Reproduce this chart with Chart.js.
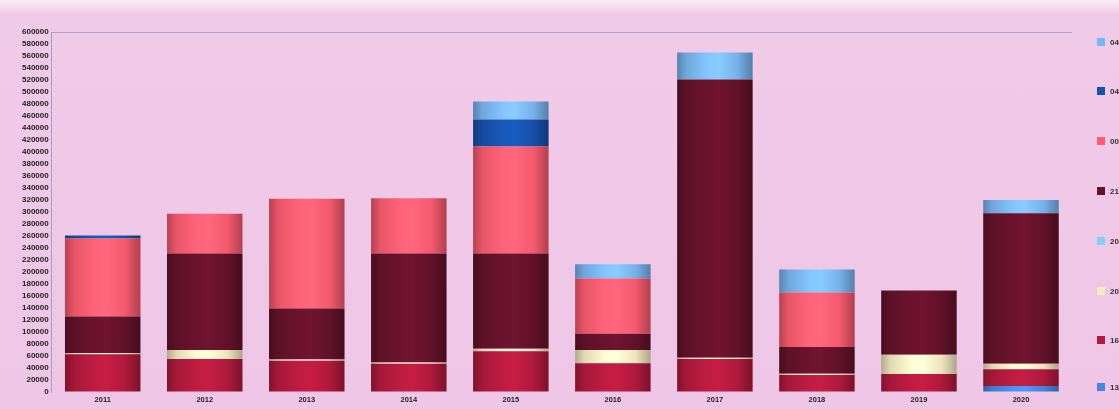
<!DOCTYPE html>
<html>
<head>
<meta charset="utf-8">
<script src="https://cdn.jsdelivr.net/npm/chart.js@4"></script>
<style>
  html, body { margin: 0; padding: 0; overflow: hidden; }
  body {
    width: 1119px; height: 409px;
    background: linear-gradient(to bottom, #f8eef6 0px, #f0cbe8 14px, #efc6e6 100%);
    position: relative;
  }
  #wrap { position: absolute; left: 0; top: 0; width: 1119px; height: 409px; }
  #legend { position: absolute; left: 1097px; top: 0; width: 40px; height: 409px; }
  .item { position: absolute; left: 0; font: bold 8px "Liberation Sans", Arial, sans-serif; color: #333; white-space: nowrap; }
  .item span.box { display: inline-block; width: 8px; height: 8px; vertical-align: -1px; margin-right: 5px; }
</style>
</head>
<body>
<div id="wrap"><canvas id="myChart"></canvas></div>
<div id="legend"></div>
<script>
const years = ['2011', '2012', '2013', '2014', '2015', '2016', '2017', '2018', '2019', '2020'];

// series, bottom of the stack first
const s13 = [0, 0, 0, 0, 0, 0, 0, 0, 0, 10000];
const s16 = [63000, 55000, 52000, 47000, 68000, 48000, 55000, 28500, 30000, 28000];
const s20a = [2000, 15000, 2000, 2000, 4000, 22000, 2000, 2000, 32000, 9000];
const s20b = [0, 0, 0, 0, 0, 0, 0, 0, 0, 0];
const s21 = [61000, 161000, 85000, 182000, 159000, 27000, 464000, 44500, 107000, 251000];
const s00 = [130000, 66000, 183000, 92000, 178000, 92000, 0, 91000, 0, 0];
const s04a = [5000, 0, 0, 0, 45000, 0, 0, 0, 0, 0];
const s04b = [0, 0, 0, 0, 30000, 24000, 45000, 38000, 0, 22000];

const names = ['13', '16', '20', '20', '21', '00', '04', '04'];
const series = [s13, s16, s20a, s20b, s21, s00, s04a, s04b];
const colors = [
  [70, 135, 225],
  [178, 26, 62],
  [245, 235, 195],
  [140, 205, 245],
  [100, 18, 42],
  [252, 92, 112],
  [22, 82, 172],
  [122, 182, 240]
];

const BAR_PCT = 0.74;

function shade(c, f) {
  const v = c.map(x => Math.max(0, Math.min(255, Math.round(x * f))));
  return 'rgb(' + v.join(',') + ')';
}

// cylinder-style shading across each bar
function cylinder(c) {
  return function (ctx) {
    const chart = ctx.chart;
    if (ctx.type !== 'data' || !chart.chartArea) return shade(c, 1);
    const xs = chart.scales.x;
    const cx = xs.getPixelForValue(ctx.dataIndex);
    const half = xs.width / years.length * BAR_PCT / 2;
    const g = chart.ctx.createLinearGradient(cx - half, 0, cx + half, 0);
    g.addColorStop(0, shade(c, 0.72));
    g.addColorStop(0.12, shade(c, 0.92));
    g.addColorStop(0.4, shade(c, 1.08));
    g.addColorStop(0.55, shade(c, 1.12));
    g.addColorStop(0.8, shade(c, 0.97));
    g.addColorStop(1, shade(c, 0.7));
    return g;
  };
}

const datasets = series.map((d, i) => ({
  label: names[i],
  data: d,
  backgroundColor: cylinder(colors[i]),
  borderWidth: 0
}));

const ctx = document.getElementById('myChart');

const config = {
  type: 'bar',
  data: { labels: years, datasets },
  options: {
    responsive: true,
    maintainAspectRatio: false,
    animation: false,
    layout: { padding: { left: 19, right: 47, top: 32, bottom: 2 } },
    datasets: { bar: { categoryPercentage: 1, barPercentage: BAR_PCT } },
    plugins: {
      legend: { display: false },
      tooltip: { enabled: false }
    },
    scales: {
      x: {
        stacked: true,
        grid: { display: false, drawTicks: false },
        border: { display: false },
        ticks: {
          color: '#222',
          padding: 3,
          maxRotation: 0,
          font: { family: 'Liberation Sans', size: 7.5, weight: 'bold' }
        }
      },
      y: {
        stacked: true,
        min: 0,
        max: 600000,
        border: { display: true, color: '#9ea3c4', width: 1 },
        grid: {
          drawTicks: false,
          color: c => (c.tick && c.tick.value === 600000 ? '#a9a6c4' : 'rgba(0,0,0,0)')
        },
        ticks: {
          stepSize: 20000,
          autoSkip: false,
          color: '#222',
          padding: 3,
          callback: v => String(v),
          font: { family: 'Liberation Sans', size: 8, weight: 'bold' }
        }
      }
    }
  }
};

const myChart = new Chart(ctx, config);

// legend on the right, top item = top of the stack
const legend = document.getElementById('legend');
const tops = [43, 92, 142, 192, 242, 292, 341, 388];
names.slice().reverse().forEach((n, k) => {
  const i = names.length - 1 - k;
  const el = document.createElement('div');
  el.className = 'item';
  el.style.top = (tops[k] - 5) + 'px';
  el.innerHTML = '<span class="box" style="background:' + shade(colors[i], 1) + '"></span>' + n;
  legend.appendChild(el);
});
</script>
</body>
</html>
